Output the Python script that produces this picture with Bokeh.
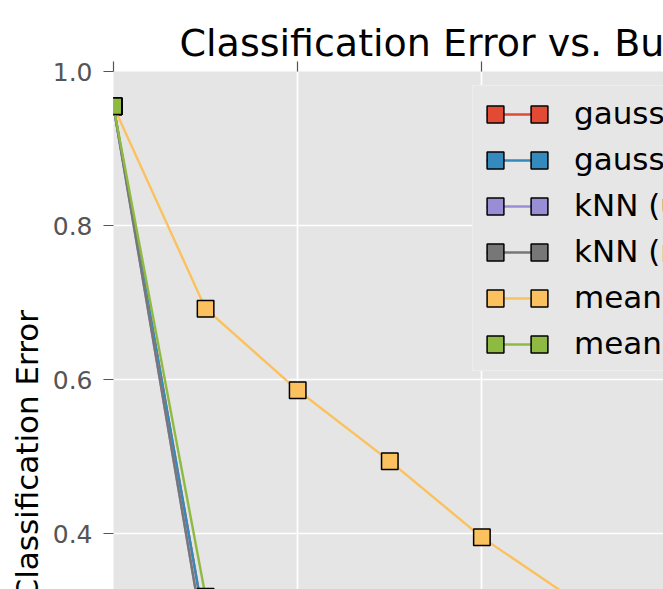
from bokeh.plotting import figure
from bokeh.models import (Range1d, FixedTicker, Legend, LegendItem, Title,
                          ColumnDataSource)
from bokeh.core.properties import value
from bokeh.embed import file_html
from bokeh.resources import INLINE

# ---------------- data ----------------
title_text = "Classification Error vs. Budget"
y_label_text = "Classification Error"

budget = [0, 1, 2, 3, 4, 5]

gauss_unc = [0.955, 0.275]
gauss_rand = [0.955, 0.275]
knn_unc = [0.955, 0.25]
knn_rand = [0.955, 0.25]
mean_unc = [0.955, 0.692, 0.586, 0.494, 0.395, 0.314]
mean_rand = [0.955, 0.318]

series_labels = ["gaussian (uncertainty)", "gaussian (random)",
                 "kNN (uncertainty)", "kNN (random)",
                 "mean (uncertainty)", "mean (random)"]
series_values = [gauss_unc, gauss_rand, knn_unc, knn_rand, mean_unc, mean_rand]
series_colors = ["#E24A33", "#348ABD", "#988ED5", "#777777", "#FBC15E", "#8EBA42"]

y_ticks = [0.0, 0.2, 0.4, 0.6, 0.8, 1.0]
y_tick_labels = ["0.0", "0.2", "0.4", "0.6", "0.8", "1.0"]
x_ticks = [0, 2, 4, 6, 8, 10]

FONT = "DejaVu Sans"

# ---------------- figure ----------------
p = figure(width=663, height=589, output_backend="svg", toolbar_location=None,
           x_range=Range1d(0, 5.972), y_range=Range1d(0.3273, 1.0),
           x_axis_location="above", title=title_text,
           min_border_left=113, min_border_top=71,
           min_border_right=0, min_border_bottom=0)
p.background_fill_color = "#E5E5E5"
p.border_fill_color = "white"
p.outline_line_color = None

p.title.align = "left"
p.title.offset = 66
p.title.text_font = FONT
p.title.text_font_size = "38px"
p.title.text_font_style = "normal"
p.title.text_color = "black"
p.title.standoff = -6

ax = p.xaxis[0]
ax.ticker = FixedTicker(ticks=x_ticks)
ax.major_label_overrides = {t: "" for t in x_ticks}
ax.major_label_text_font_size = "1px"
ax.major_label_standoff = 0
ax.major_tick_out = 10
ax.major_tick_in = 0
ax.minor_tick_line_color = None
ax.axis_line_color = None
ax.major_tick_line_color = "#555555"
ax.major_tick_line_width = 1.2

ay = p.yaxis[0]
ay.ticker = FixedTicker(ticks=y_ticks)
ay.major_label_overrides = {t: l for t, l in zip(y_ticks, y_tick_labels)}
ay.major_label_text_font = FONT
ay.major_label_text_font_size = "25px"
ay.major_label_text_color = "#555555"
ay.major_label_standoff = 11
ay.major_tick_out = 10
ay.major_tick_in = 0
ay.minor_tick_line_color = None
ay.axis_line_color = None
ay.major_tick_line_color = "#555555"
ay.major_tick_line_width = 1.2

for g in (p.xgrid[0], p.ygrid[0]):
    g.grid_line_color = "white"
    g.grid_line_width = 1.7

# y-axis label as a side title, started just below the visible frame
p.add_layout(Title(text=y_label_text, align="left", offset=-11,
                   text_font=FONT, text_font_size="31px",
                   text_font_style="normal", text_color="black",
                   standoff=9), "left")

# ---------------- series ----------------
line_rs, mark_rs = [], []
for vals, col in zip(series_values, series_colors):
    src = ColumnDataSource(dict(x=budget[:len(vals)], y=vals))
    lr = p.line("x", "y", source=src, line_color=col, line_width=2.4)
    sr = p.scatter("x", "y", source=src, marker="square", size=16.5,
                   fill_color=col, line_color="black", line_width=1.5)
    line_rs.append(lr)
    mark_rs.append(sr)

# ---------------- legend (box + labels, then glyph overlays) ----------------
common = dict(glyph_height=42, label_height=42, spacing=4, margin=0,
              label_text_font=FONT, label_text_font_size="31px",
              orientation="vertical")

leg_box = Legend(items=[LegendItem(label=value(l), renderers=[r])
                        for l, r in zip(series_labels, line_rs)],
                 location=(359, 218), padding=6, glyph_width=0,
                 label_standoff=95, label_text_color="black",
                 background_fill_color="#E6E6E6", background_fill_alpha=1.0,
                 border_line_color="#F4F4F4", border_line_width=1.5, **common)
p.add_layout(leg_box)

def overlay(renderers, x, gw):
    return Legend(items=[LegendItem(label=value(""), renderers=[r])
                         for r in renderers],
                  location=(x, 224), padding=0, glyph_width=gw,
                  label_standoff=0, label_text_alpha=0.0,
                  background_fill_alpha=0.0, border_line_alpha=0.0, **common)

p.add_layout(overlay(line_rs, 373, 62))
p.add_layout(overlay(mark_rs, 361, 42))
p.add_layout(overlay(mark_rs, 405, 42))

open("out.html", "w").write(file_html(p, INLINE))
